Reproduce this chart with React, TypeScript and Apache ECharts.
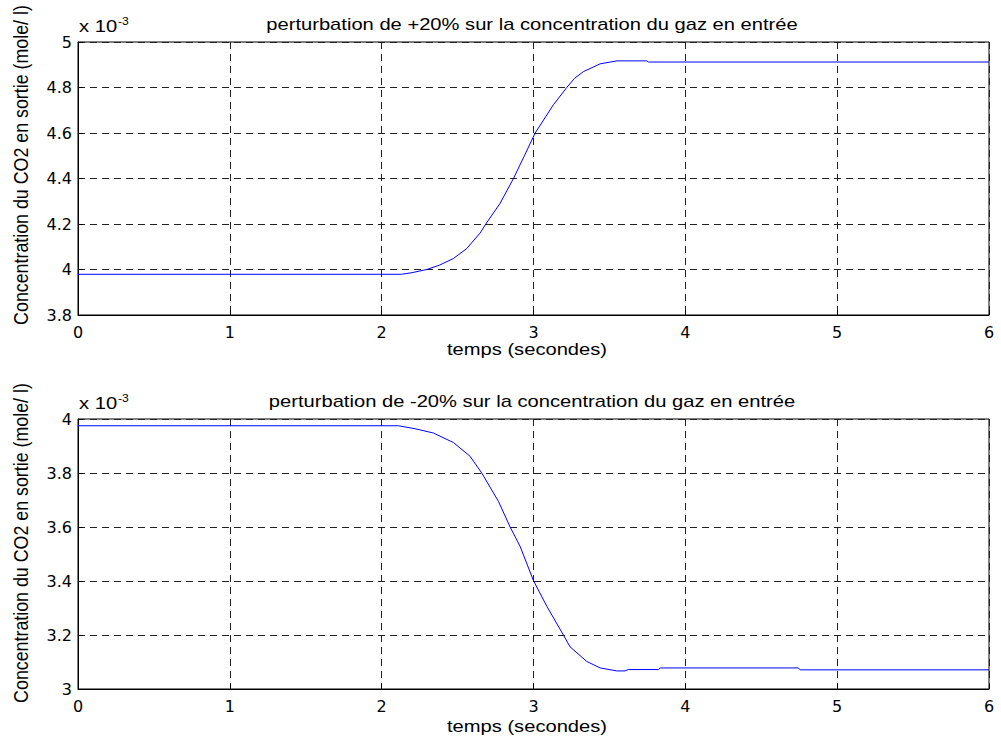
import React, { useEffect, useRef } from "react";
import * as echarts from "echarts";

// Time (s) and CO2 outlet concentration (x 10^-3 mole/l)
const tUp = [0, 2.131, 2.2, 2.297, 2.38, 2.472, 2.56, 2.648, 2.686, 2.78, 2.868, 2.94, 3.011, 3.131, 3.219, 3.27, 3.329, 3.439, 3.549, 3.746, 3.757, 6];
const cUp = [3.979, 3.979, 3.986, 4.0, 4.019, 4.048, 4.092, 4.16, 4.2, 4.291, 4.4, 4.5, 4.6, 4.724, 4.8, 4.84, 4.87, 4.904, 4.917, 4.917, 4.912, 4.912];

const tDown = [0, 2.11, 2.22, 2.341, 2.472, 2.582, 2.659, 2.769, 2.846, 2.912, 3.0, 3.088, 3.197, 3.241, 3.351, 3.439, 3.549, 3.603, 3.625, 3.823, 3.834, 4.745, 4.756, 6];
const cDown = [3.975, 3.975, 3.964, 3.948, 3.913, 3.862, 3.8, 3.695, 3.6, 3.528, 3.401, 3.306, 3.2, 3.156, 3.102, 3.078, 3.067, 3.067, 3.072, 3.072, 3.078, 3.078, 3.071, 3.071];

const xTicks = { min: 0, max: 6, interval: 1 };
const yUp = { min: 3.8, max: 5, interval: 0.2 };
const yDown = { min: 3, max: 4, interval: 0.2 };

const titleUp = "perturbation de +20% sur la concentration du gaz en entrée";
const titleDown = "perturbation de -20% sur la concentration du gaz en entrée";
const xLabel = "temps (secondes)";
const yLabel = "Concentration du CO2 en sortie (mole/ l)";

const FONT = "Liberation Sans, Arial, sans-serif";
const TICKFONT = "DejaVu Sans, sans-serif";
const SX = 1.26;

function txt(text: string, x: number, y: number, opts: any = {}) {
  return {
    type: "text",
    x,
    y,
    rotation: opts.rotation || 0,
    scaleX: opts.scaleX ?? SX,
    scaleY: opts.scaleY ?? 1,
    silent: true,
    style: {
      text,
      fontFamily: FONT,
      fontSize: opts.fontSize || 16,
      fill: "#000",
      align: opts.align || "center",
      verticalAlign: "middle",
    },
  };
}

export default function App() {
  const ref = useRef<HTMLDivElement>(null);
  useEffect(() => {
    if (!ref.current) return;
    const chart = echarts.init(ref.current, null, { renderer: "svg" });
    const fmt = (v: number) => String(parseFloat(v.toFixed(1)));
    const splitLine = { show: true, lineStyle: { color: "#222", width: 1, type: [7, 5] } };
    const axisLine = { show: true, lineStyle: { color: "#000", width: 1 } };
    const axisTick = { show: true, inside: true, length: 5, lineStyle: { color: "#000" } };
    const xAxisBase = (gridIndex: number) => ({
      type: "value",
      gridIndex,
      ...xTicks,
      axisLine,
      axisTick,
      splitLine,
      axisLabel: { fontFamily: TICKFONT, fontSize: 16, color: "#000", margin: 9 },
    });
    const yAxisBase = (gridIndex: number, r: any) => ({
      type: "value",
      gridIndex,
      ...r,
      axisLine,
      axisTick,
      splitLine,
      axisLabel: { fontFamily: TICKFONT, fontSize: 16, color: "#000", margin: 6, formatter: fmt },
    });
    const offs = 377;
    chart.setOption({
      animation: false,
      backgroundColor: "#fff",
      grid: [
        { left: 78, top: 42, width: 911, height: 273, show: true, borderColor: "#000", borderWidth: 1, backgroundColor: "#fff" },
        { left: 78, top: 419, width: 911, height: 270, show: true, borderColor: "#000", borderWidth: 1, backgroundColor: "#fff" },
      ],
      xAxis: [xAxisBase(0), xAxisBase(1)],
      yAxis: [yAxisBase(0, yUp), yAxisBase(1, yDown)],
      series: [
        {
          type: "line",
          xAxisIndex: 0,
          yAxisIndex: 0,
          data: tUp.map((t, i) => [t, cUp[i]]),
          showSymbol: false,
          lineStyle: { color: "#0000ff", width: 1 },
        },
        {
          type: "line",
          xAxisIndex: 1,
          yAxisIndex: 1,
          data: tDown.map((t, i) => [t, cDown[i]]),
          showSymbol: false,
          lineStyle: { color: "#0000ff", width: 1 },
        },
      ],
      graphic: [
        txt(titleUp, 532, 24.5),
        txt(titleDown, 532, 24.5 + offs),
        txt(xLabel, 527, 349.5),
        txt(xLabel, 527, 349.5 + offs),
        txt("x 10", 79, 26.5, { align: "left" }),
        txt("-3", 118, 21, { align: "left", fontSize: 11, scaleX: 1.1 }),
        txt("x 10", 79, 26.5 + offs, { align: "left" }),
        txt("-3", 118, 21 + offs, { align: "left", fontSize: 11, scaleX: 1.1 }),
        txt(yLabel, 21, 165, { rotation: Math.PI / 2, scaleX: 1.114, scaleY: 1.26 }),
        txt(yLabel, 21, 165 + 378, { rotation: Math.PI / 2, scaleX: 1.114, scaleY: 1.26 }),
      ],
    });
    return () => chart.dispose();
  }, []);
  return <div ref={ref} style={{ position: "absolute", left: 0, top: 0, width: 1001, height: 747 }} />;
}
